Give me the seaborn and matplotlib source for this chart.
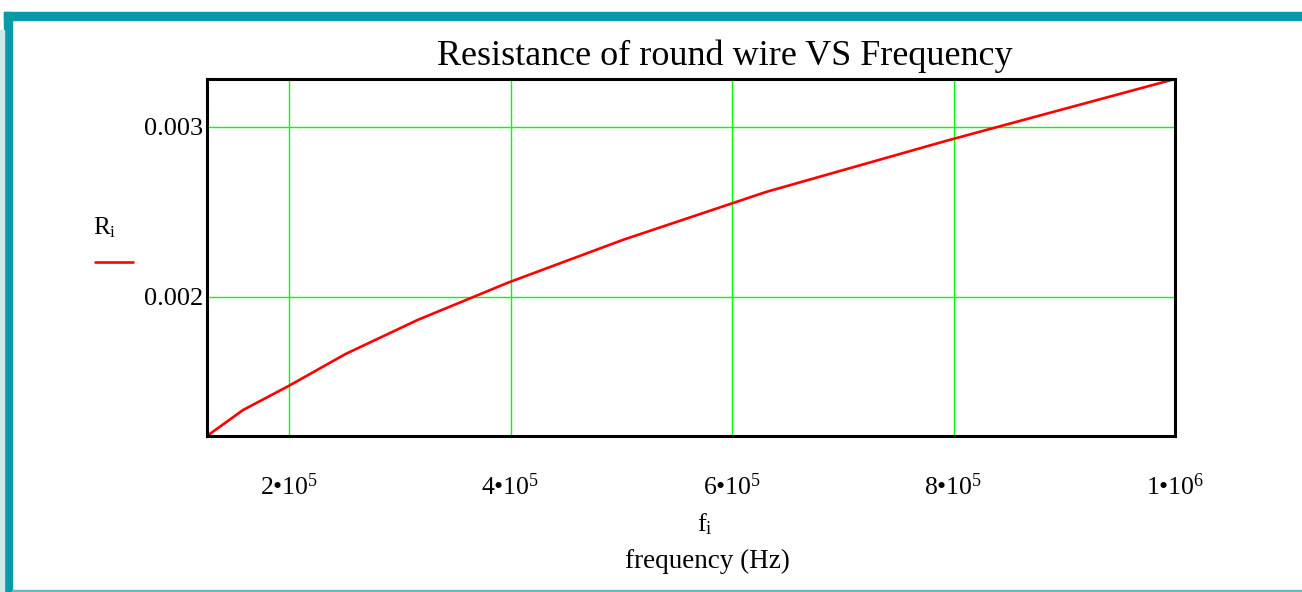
import numpy as np
import pandas as pd
import seaborn as sns
import matplotlib.pyplot as plt
from matplotlib.patches import Rectangle
from matplotlib.lines import Line2D

# values
freq = [125893, 158489, 199526, 251189, 316228, 398107, 501187, 630957, 794328, 1000000]
resist = [0.001182, 0.001335, 0.001476, 0.001665, 0.001865, 0.002085, 0.002335, 0.002618, 0.002920, 0.003282]
xticks = [2e5, 4e5, 6e5, 8e5, 1e6]
xticklabels = ["2•10$^{5}$", "4•10$^{5}$", "6•10$^{5}$", "8•10$^{5}$", "1•10$^{6}$"]
yticks = [0.002, 0.003]
yticklabels = ["0.002", "0.003"]

data = pd.DataFrame({"f": freq, "R": resist})

sns.set_style("white")
plt.rcParams['font.family'] = ['Liberation Serif', 'DejaVu Serif']
plt.rcParams['mathtext.fontset'] = 'custom'
plt.rcParams['mathtext.rm'] = 'Liberation Serif'
plt.rcParams['mathtext.it'] = 'Liberation Serif'
plt.rcParams['text.color'] = 'black'
plt.rcParams['xtick.color'] = 'black'
plt.rcParams['ytick.color'] = 'black'
plt.rcParams['axes.labelcolor'] = 'black'

fig = plt.figure(figsize=(13.02, 5.92), dpi=100)
ax = fig.add_axes([207/1302, 1-436/592, (1175-207)/1302, (436-79)/592])

g = sns.lineplot(x="f", y="R", data=data, color="red", linewidth=1.9, ax=ax)

ax.set_xlim(freq[0], freq[-1])
ax.set_ylim(resist[0], resist[-1])
ax.set_xticks(xticks)
ax.set_xticklabels(xticklabels, fontsize=18.5)
ax.set_yticks(yticks)
ax.set_yticklabels(yticklabels, fontsize=19)
ax.tick_params(axis='x', length=0, pad=27)
ax.tick_params(axis='y', length=0, pad=3)
for lab in ax.get_yticklabels():
    lab.set_va("center_baseline")
ax.grid(True, color="#00ff00", linewidth=1)
for s in ax.spines.values():
    s.set_color("black")
    s.set_linewidth(2.2)

ax.set_xlabel("frequency (Hz)", fontsize=19.5, labelpad=35)
ax.xaxis.label.set_x((707-207)/968)
ax.set_ylabel("")
ax.set_title("Resistance of round wire VS Frequency", fontsize=26, pad=10, x=(725-207)/968)

fig.text(705/1302, 1-524/592, "f$_{i}$", fontsize=19, ha="center", va="center")
fig.text(105/1302, 1-228/592, "R$_{i}$", fontsize=18, ha="center", va="center")
fig.add_artist(Line2D([95/1302, 133/1302], [1-262/592, 1-262/592], color="red", linewidth=1.9))

# teal frame
teal = "#069ba6"
fig.add_artist(Rectangle((4/1302, 1-20/592), 1-4/1302, 8/592, color=teal, transform=fig.transFigure))
fig.add_artist(Rectangle((4/1302, 0), 8/1302, 1-12/592, color=teal, transform=fig.transFigure))
fig.add_artist(Rectangle((0, 0), 4/1302, 1-30/592, color="#cfe8e9", transform=fig.transFigure))
fig.add_artist(Rectangle((12/1302, 0), 1, 2/592, color="#5fbcc2", transform=fig.transFigure))

fig.savefig("out.png", dpi=100)
